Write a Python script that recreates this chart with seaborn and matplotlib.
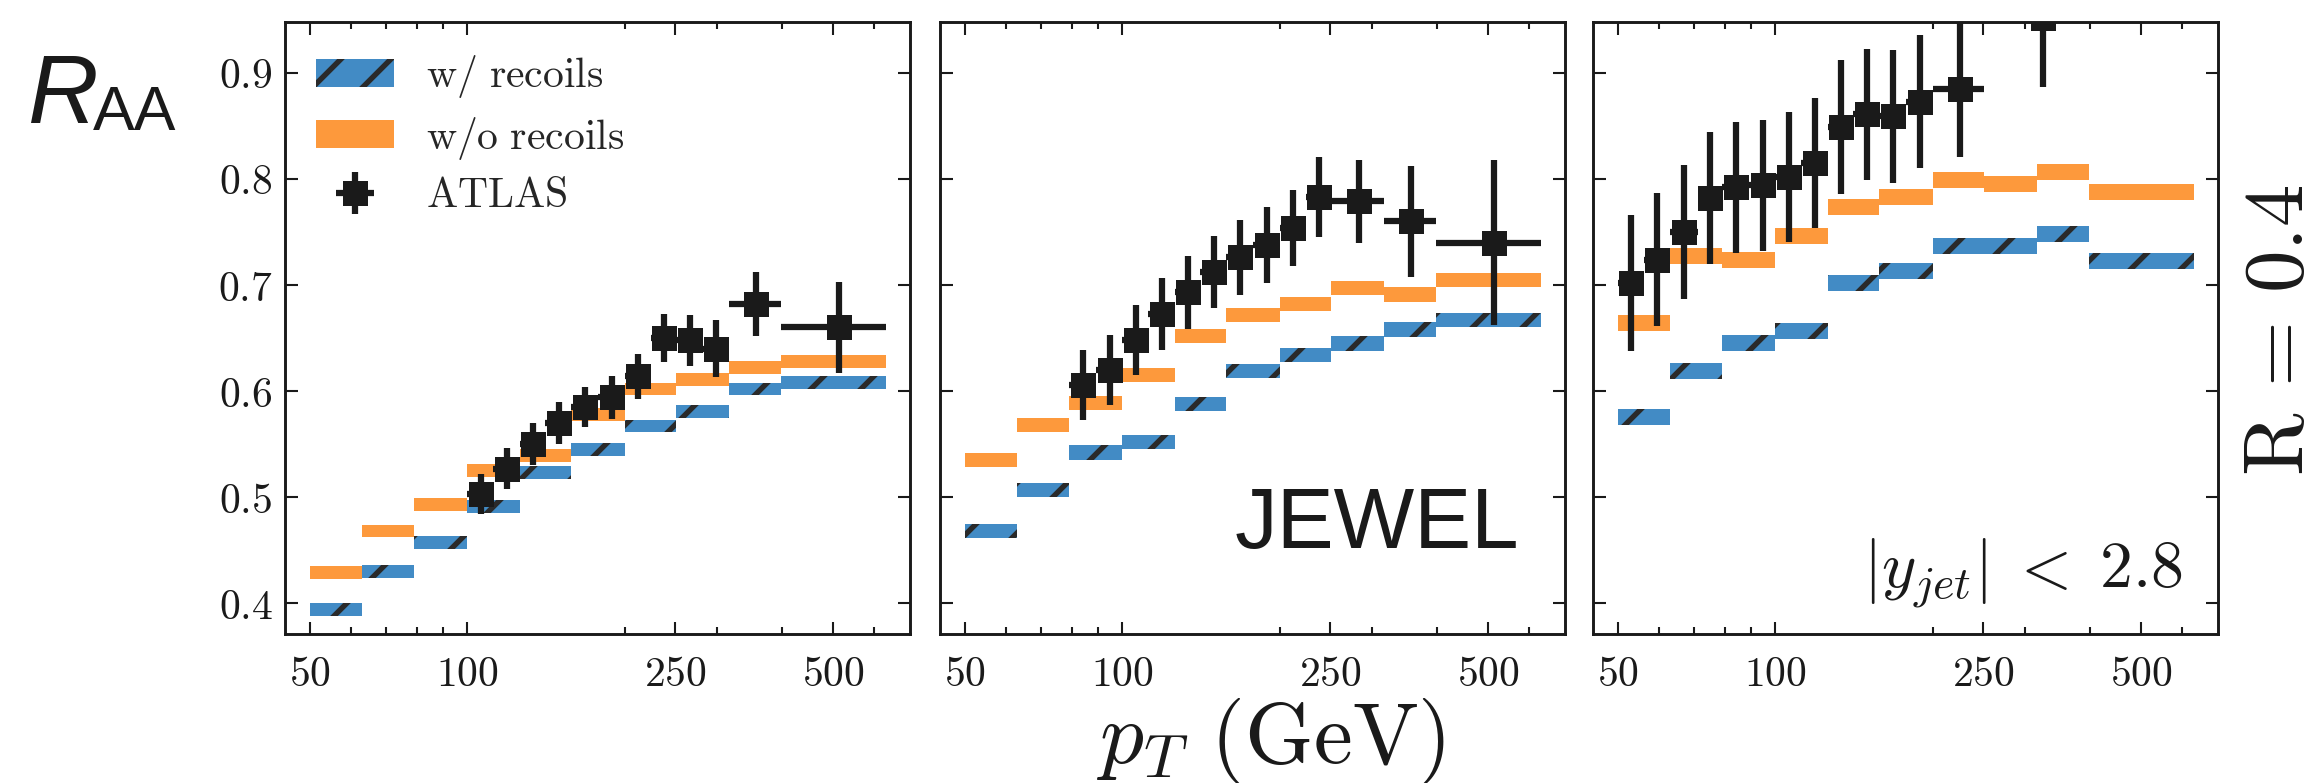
#!/usr/bin/env python3
"""
Jet R_AA vs pT: JEWEL with/without recoils compared to ATLAS, three rapidity/centrality panels.
"""

import numpy as np
import matplotlib
matplotlib.use("Agg")
import matplotlib.pyplot as plt
from matplotlib.ticker import FixedLocator, NullFormatter
from matplotlib.legend_handler import HandlerErrorbar
from matplotlib.container import ErrorbarContainer
import seaborn as sns

# model pT bins (GeV)
MODEL_EDGES = [50, 63, 79, 100, 126, 158, 200, 251, 316, 398, 631]

# JEWEL w/ recoils (blue) and w/o recoils (orange), per panel
BLUE_1 = [0.394, 0.430, 0.457, 0.491, 0.523, 0.545, 0.567, 0.581, 0.602, 0.608]
ORANGE_1 = [0.429, 0.468, 0.493, 0.525, 0.539, 0.578, 0.602, 0.611, 0.622, 0.628]
BLUE_2 = [0.468, 0.507, 0.542, 0.552, 0.588, 0.619, 0.634, 0.645, 0.658, 0.667]
ORANGE_2 = [0.535, 0.568, 0.589, 0.615, 0.652, 0.672, 0.682, 0.697, 0.691, 0.705]
BLUE_3 = [0.576, 0.619, 0.645, 0.657, 0.702, 0.713, 0.737, 0.737, 0.748, 0.723]
ORANGE_3 = [0.664, 0.727, 0.724, 0.746, 0.774, 0.783, 0.799, 0.795, 0.807, 0.788]
BAND_HALF = [0.006, 0.0068, 0.0075]

# ATLAS data: bin low / high edges, value, error
LO_1 = [100, 112, 126, 141, 158, 178, 200, 224, 251, 282, 316, 398]
HI_1 = [112, 126, 141, 158, 178, 200, 224, 251, 282, 316, 398, 631]
Y_1 = [0.503, 0.527, 0.550, 0.570, 0.585, 0.594, 0.614, 0.650, 0.648, 0.640, 0.682, 0.660]
E_1 = [0.019, 0.019, 0.020, 0.020, 0.019, 0.020, 0.021, 0.023, 0.024, 0.027, 0.030, 0.043]

LO_2 = [79, 89, 100, 112, 126, 141, 158, 178, 200, 224, 251, 316, 398]
HI_2 = [89, 100, 112, 126, 141, 158, 178, 200, 224, 251, 316, 398, 631]
Y_2 = [0.606, 0.620, 0.648, 0.673, 0.693, 0.712, 0.726, 0.738, 0.754, 0.783, 0.779, 0.760, 0.740]
E_2 = [0.033, 0.033, 0.033, 0.034, 0.034, 0.034, 0.035, 0.036, 0.036, 0.038, 0.039, 0.052, 0.078]

LO_3 = [50, 56, 63, 71, 79, 89, 100, 112, 126, 141, 158, 178, 200, 251]
HI_3 = [56, 63, 71, 79, 89, 100, 112, 126, 141, 158, 178, 200, 251, 398]
Y_3 = [0.702, 0.724, 0.750, 0.782, 0.792, 0.794, 0.802, 0.815, 0.849, 0.861, 0.859, 0.873, 0.885, 0.952]
E_3 = [0.064, 0.063, 0.063, 0.062, 0.0615, 0.0615, 0.061, 0.061, 0.063, 0.062, 0.063, 0.063, 0.064, 0.065]

X_TICKS = [50, 100, 250, 500]
X_MINOR = [60, 70, 80, 90, 200, 300, 400, 600]
Y_TICKS = [0.4, 0.5, 0.6, 0.7, 0.8, 0.9]

BLUE = "#428bc5"
ORANGE = "#fd993c"

DPI = 300

sns.set_theme(style="ticks")
plt.rcParams["mathtext.fontset"] = "cm"
plt.rcParams["font.family"] = ["Liberation Sans", "DejaVu Sans"]
plt.rcParams["hatch.linewidth"] = 1.3
plt.rcParams["axes.linewidth"] = 0.7


def draw_band(ax, values, half, color, hatch=None, label=None):
    edges = np.array(MODEL_EDGES, dtype=float)
    vals = np.array(values)
    return ax.bar(edges[:-1], 2 * half, width=np.diff(edges), bottom=vals - half,
                  align="edge", color=color, hatch=hatch, edgecolor="#2a2a2a",
                  linewidth=0, label=label, zorder=2)


def draw_data(ax, lo, hi, y, err):
    lo, hi = np.array(lo, float), np.array(hi, float)
    x = (lo + hi) / 2
    return ax.errorbar(x, y, xerr=[x - lo, hi - x], yerr=err, fmt="s", color="k",
                       ms=6.0, mew=0, elinewidth=1.5, capsize=0, zorder=5,
                       label=r"$\mathrm{ATLAS}$")


fig = plt.figure(figsize=(2320 / DPI, 783 / DPI), dpi=DPI)
lefts = [285 / 2320, 940 / 2320, 1593 / 2320]
axes = [fig.add_axes([l, 0.1903, 625 / 2320, 0.7816]) for l in lefts]

panels = [
    (BLUE_1, ORANGE_1, LO_1, HI_1, Y_1, E_1),
    (BLUE_2, ORANGE_2, LO_2, HI_2, Y_2, E_2),
    (BLUE_3, ORANGE_3, LO_3, HI_3, Y_3, E_3),
]

for i, (ax, (blue, orange, lo, hi, y, err)) in enumerate(zip(axes, panels)):
    b = draw_band(ax, blue, BAND_HALF[i], BLUE, hatch="//", label=r"$\mathrm{w/\ recoils}$")
    o = draw_band(ax, orange, BAND_HALF[i], ORANGE, label=r"$\mathrm{w/o\ recoils}$")
    d = draw_data(ax, lo, hi, y, err)

    ax.set_xscale("log")
    ax.set_xlim(44.8, 702)
    ax.set_ylim(0.371, 0.948)
    ax.xaxis.set_major_locator(FixedLocator(X_TICKS))
    ax.xaxis.set_minor_locator(FixedLocator(X_MINOR))
    ax.xaxis.set_minor_formatter(NullFormatter())
    ax.set_xticklabels([f"${t}$" for t in X_TICKS])
    ax.set_yticks(Y_TICKS)
    if i == 0:
        ax.set_yticklabels([f"${t:.1f}$" for t in Y_TICKS])
    else:
        ax.set_yticklabels([])
    ax.tick_params(which="both", direction="in", top=True, right=True,
                   width=0.5, colors="k", labelsize=10)
    ax.tick_params(which="major", length=3.0)
    ax.tick_params(which="minor", length=1.6)
    ax.tick_params(axis="x", pad=5)
    ax.tick_params(axis="y", pad=3)
    for s in ax.spines.values():
        s.set_color("k")

    if i == 0:
        ax.legend(handles=[b, o, d], loc="upper left", bbox_to_anchor=(0, 1),
                  frameon=False, fontsize=10, borderaxespad=0, borderpad=0.75,
                  handlelength=1.87, handleheight=0.65, handletextpad=0.77,
                  labelspacing=0.35,
                  handler_map={ErrorbarContainer: HandlerErrorbar(xerr_size=0.45, yerr_size=0.5)})

axes[1].text(0.926, 0.14, "JEWEL", transform=axes[1].transAxes, ha="right",
             va="baseline", fontsize=20.5, color="k")
axes[2].text(0.944, 0.077, r"$|y_{jet}|\;<\;2.8$", transform=axes[2].transAxes,
             ha="right", va="baseline", fontsize=15.8, color="k")

fig.text(0.9832, 0.5785, r"$\mathrm{R}\, =\, 0.4$", rotation=90, ha="center",
         va="center", fontsize=20.4, color="k")
fig.text(0.548, 0.0255, r"$p_T\ (\mathrm{GeV})$", ha="center", va="baseline",
         fontsize=21, color="k")
fig.text(0.0121, 0.8429, "R", fontstyle="italic", fontsize=23.5, va="baseline",
         ha="left", color="k")
fig.text(0.0401, 0.834, "AA", fontsize=15, va="baseline", ha="left", color="k")

fig.savefig("out.png", dpi=DPI)
print("Saved out.png")
